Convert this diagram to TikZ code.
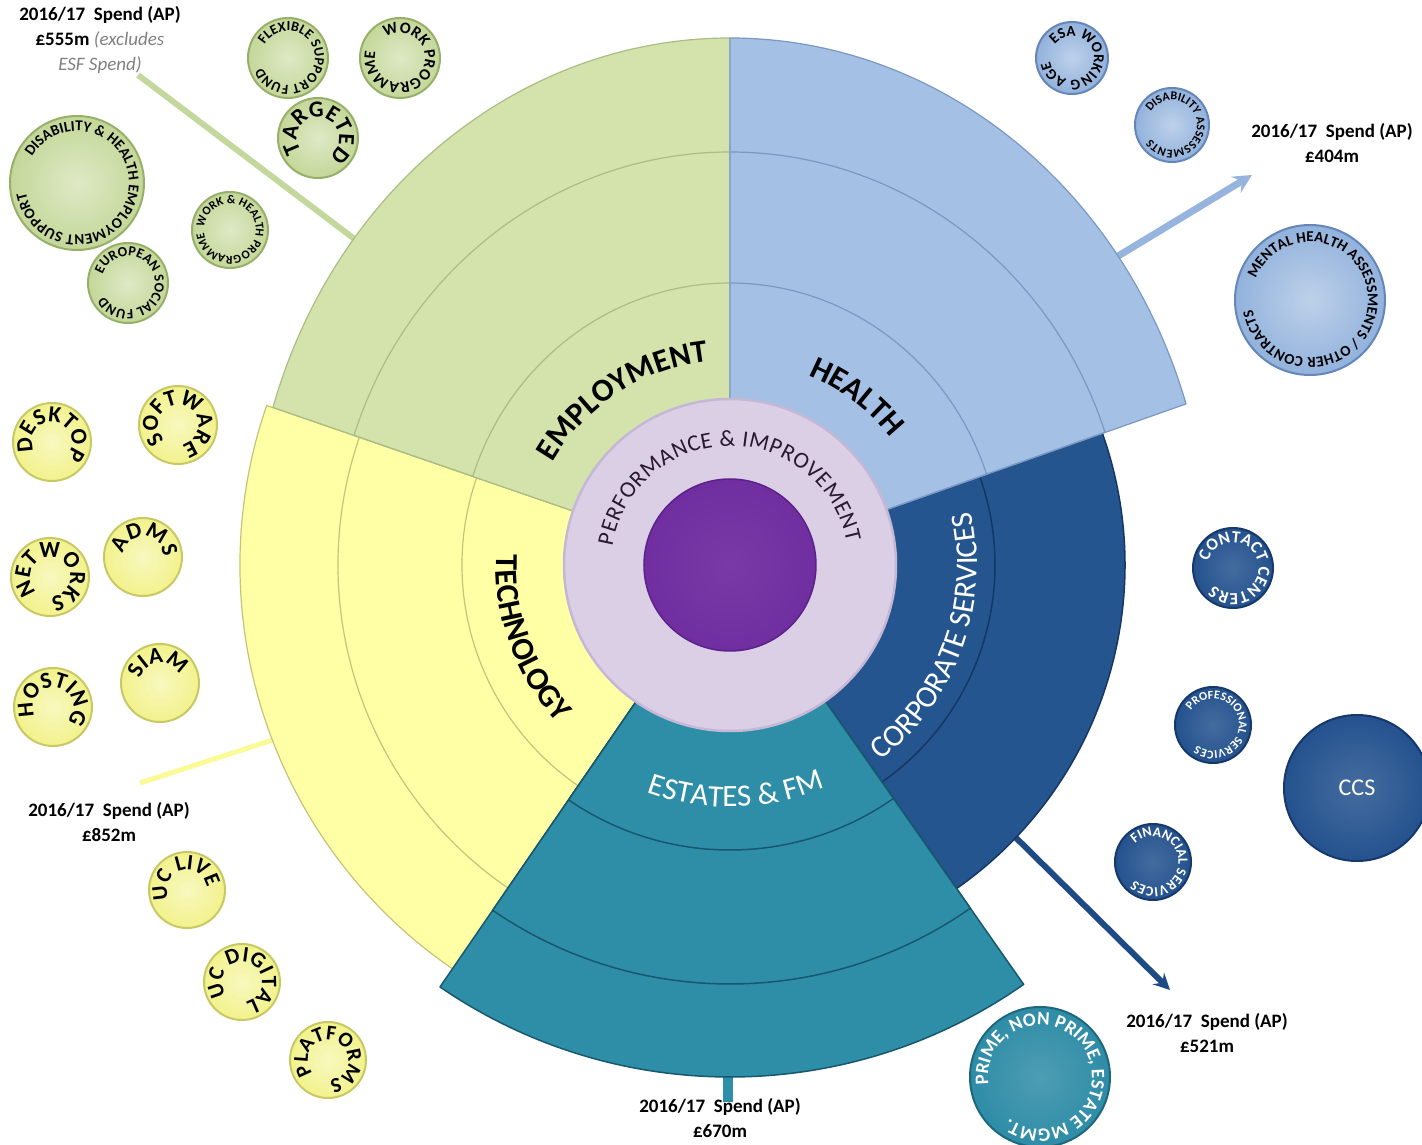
\documentclass[tikz,border=0pt]{standalone}
\usepackage{fontspec}
\setmainfont{Carlito}

\definecolor{empfill}{RGB}{212,226,172}
\definecolor{empline}{RGB}{170,190,132}
\definecolor{hlthfill}{RGB}{164,192,228}
\definecolor{hlthline}{RGB}{122,152,196}
\definecolor{techfill}{RGB}{255,255,166}
\definecolor{techline}{RGB}{196,196,120}
\definecolor{estfill}{RGB}{46,142,168}
\definecolor{estline}{RGB}{24,88,110}
\definecolor{corpfill}{RGB}{36,85,143}
\definecolor{corpline}{RGB}{20,55,100}
\definecolor{lavfill}{RGB}{218,207,229}
\definecolor{lavline}{RGB}{196,184,214}
\definecolor{purpfill}{RGB}{112,46,160}
\definecolor{purpline}{RGB}{92,34,138}
\definecolor{perftext}{RGB}{40,24,48}
\definecolor{gbubfill}{RGB}{196,215,152}
\definecolor{gbubline}{RGB}{150,176,106}
\definecolor{bbubfill}{RGB}{146,178,220}
\definecolor{bbubline}{RGB}{100,134,186}
\definecolor{ybubfill}{RGB}{242,242,140}
\definecolor{ybubline}{RGB}{200,200,100}
\definecolor{dbubfill}{RGB}{36,82,142}
\definecolor{dbubline}{RGB}{22,56,106}
\definecolor{tbubfill}{RGB}{46,140,166}
\definecolor{tbubline}{RGB}{30,104,126}
\definecolor{emplink}{RGB}{196,216,158}
\definecolor{hlthlink}{RGB}{150,180,222}
\definecolor{techlink}{RGB}{250,250,150}
\definecolor{corplink}{RGB}{30,74,134}

\newcommand\labfont{\fontsize{32}{32}\selectfont\bfseries}
\newcommand\wlabfont{\color{white}\fontsize{31}{31}\selectfont}
\newcommand\perffont{\color{perftext}\fontsize{23}{23}\selectfont}
\newcommand\bubfont[1]{\fontsize{#1}{#1}\selectfont\bfseries}
% one letter of a curved text: centre, angle, rotation, radius, letter
\newcommand\placechar[5]{%
  \node[inner sep=0pt, anchor=base, rotate=#3] at ([shift={(#2:#4)}]#1) {#5};}

% curved text: [tracking] centre, base radius, middle angle,
% sense (1 clockwise, letters outward; -1 anticlockwise, letters inward), font, text
\ExplSyntaxOn
\box_new:N \g__arc_char_box
\fp_new:N \g__arc_total_fp
\fp_new:N \g__arc_pos_fp
\fp_new:N \g__arc_w_fp
\tl_new:N \g__arc_ang_tl
\tl_new:N \g__arc_rot_tl
\str_new:N \g__arc_text_str
\cs_new_protected:Npn \__arc_width:nnn #1 #2 #3
  {
    \hbox_gset:Nn \g__arc_char_box { \pgfinterruptpicture #2 #3 \endpgfinterruptpicture }
    \fp_gset:Nn \g__arc_w_fp { \dim_to_fp:n { \box_wd:N \g__arc_char_box } + #1 }
  }
\NewDocumentCommand \arctext { O{0} m m m m m m }
  {
    \str_gset:Nn \g__arc_text_str { #7 }
    \fp_gzero:N \g__arc_total_fp
    \str_map_inline:Nn \g__arc_text_str
      {
        \__arc_width:nnn { #1 } { #6 } { ##1 }
        \fp_gadd:Nn \g__arc_total_fp { \g__arc_w_fp }
      }
    \fp_gset:Nn \g__arc_pos_fp { - \g__arc_total_fp / 2 }
    \str_map_inline:Nn \g__arc_text_str
      {
        \__arc_width:nnn { #1 } { #6 } { ##1 }
        \tl_gset:Nx \g__arc_ang_tl
          { \fp_eval:n { #4 - (#5) * ( \g__arc_pos_fp + \g__arc_w_fp / 2 ) / ( #3 ) * 180 / pi } }
        \tl_gset:Nx \g__arc_rot_tl { \fp_eval:n { \g__arc_ang_tl - 90 * (#5) } }
        \placechar { #2 } { \g__arc_ang_tl } { \g__arc_rot_tl } { #3 } { #6 ##1 }
        \fp_gadd:Nn \g__arc_pos_fp { \g__arc_w_fp }
      }
  }
\ExplSyntaxOff

\begin{document}
\begin{tikzpicture}[x=1pt, y=1pt, line join=round, >=stealth,
  empring/.style={fill=empfill, draw=empline, line width=1.2pt},
  hlthring/.style={fill=hlthfill, draw=hlthline, line width=1.2pt},
  techring/.style={fill=techfill, draw=techline, line width=1.2pt},
  estring/.style={fill=estfill, draw=estline, line width=1.5pt},
  corpring/.style={fill=corpfill, draw=corpline, line width=1.5pt},
  spend/.style={align=center, inner sep=0pt, font=\fontsize{19}{25}\selectfont\bfseries},
  bub/.style={circle, inner sep=0pt, line width=2pt},
  gbub/.style={bub, inner color=gbubfill!55!white, outer color=gbubfill, draw=gbubline},
  bbub/.style={bub, inner color=bbubfill!60!white, outer color=bbubfill, draw=bbubline},
  ybub/.style={bub, inner color=ybubfill!55!white, outer color=ybubfill, draw=ybubline},
  dbub/.style={bub, inner color=dbubfill!85!white, outer color=dbubfill, draw=dbubline},
  tbub/.style={bub, inner color=tbubfill!85!white, outer color=tbubfill, draw=tbubline}]
\useasboundingbox (-730,-580) rectangle (692,565);

% spend connectors (drawn first, the sectors hide their feet)
\coordinate (emptail) at (-592,490);
\coordinate (empfoot) at (-357,312);
\coordinate (hlthfoot) at (370,298);
\coordinate (hlthtip) at (522,390);
\coordinate (techfoot) at (-445,-171);
\coordinate (techtail) at (-590,-218);
\coordinate (estfoot) at (-2,-500);
\coordinate (esttail) at (-2,-537);
\coordinate (corpfoot) at (270,-257);
\coordinate (corptip) at (440,-425);
\draw[line width=6pt, emplink] (emptail) -- (empfoot);
\draw[->, line width=7pt, hlthlink] (hlthfoot) -- (hlthtip);
\draw[line width=5pt, techlink] (techfoot) -- (techtail);
\draw[line width=10pt, estfill] (estfoot) -- (esttail);
\draw[->, line width=6pt, corplink] (corpfoot) -- (corptip);

% sectors
\foreach \r in {490,392,268}
  \filldraw[techring] (0,0) -- (161:\r) arc[start angle=161, end angle=236.5, radius=\r] -- cycle;
\foreach \r in {395,265}
  \filldraw[corpring] (0,0) -- (-55:\r) arc[start angle=-55, end angle=19.5, radius=\r] -- cycle;
\foreach \r in {512,419,285}
  \filldraw[estring] (0,0) -- (235.5:\r) arc[start angle=235.5, end angle=305, radius=\r] -- cycle;
\foreach \a/\b/\s/\t in {479/527/162.6/17.8,396/413/161.7/18.75,271/282/161.7/18.8}{
  \filldraw[empring] (0,0) -- (\s:\a pt and \b pt) arc[start angle=\s, end angle=90, x radius=\a pt, y radius=\b pt] -- cycle;
  \filldraw[hlthring] (0,0) -- (\t:\a pt and \b pt) arc[start angle=\t, end angle=90, x radius=\a pt, y radius=\b pt] -- cycle;}

% hub
\node[circle, fill=lavfill, draw=lavline, line width=2.5pt, minimum size=332pt] (perf) at (0,0) {};
\node[circle, inner color=purpfill!94!white, outer color=purpfill, draw=purpline, line width=1.5pt, minimum size=172pt] (core) at (0,0) {};

% sector labels
\arctext{core.center}{205}{123}{1}{\labfont}{EMPLOYMENT}
\arctext{core.center}{205}{53}{1}{\labfont}{HEALTH}
\arctext{core.center}{234}{200}{-1}{\labfont}{TECHNOLOGY}
\arctext{core.center}{242}{271.5}{-1}{\wlabfont}{ESTATES & FM}
\arctext{core.center}{247}{-20}{-1}{\wlabfont}{CORPORATE SERVICES}
\arctext[0.6]{core.center}{119}{91}{1}{\perffont}{PERFORMANCE & IMPROVEMENT}

% employment bubbles
\node[gbub, minimum size=80pt] (flex) at (-442,507) {};
\node[gbub, minimum size=80pt] (wprog) at (-330,507) {};
\node[gbub, minimum size=80pt] (targ) at (-412,427) {};
\node[gbub, minimum size=134pt] (dhes) at (-653,382) {};
\node[gbub, minimum size=76pt] (whp) at (-500,335) {};
\node[gbub, minimum size=80pt] (esf) at (-602,282) {};
\arctext{flex.center}{27}{-5}{1}{\bubfont{14}}{FLEXIBLE SUPPORT FUND}
\arctext{wprog.center}{25}{-35}{1}{\bubfont{16}}{WORK PROGRAMME}
\arctext{targ.center}{21}{80}{1}{\bubfont{23}}{TARGETED}
\arctext{dhes.center}{52}{-10}{1}{\bubfont{15}}{DISABILITY & HEALTH EMPLOYMENT SUPPORT}
\arctext{whp.center}{26}{0}{1}{\bubfont{12}}{WORK & HEALTH PROGRAMME}
\arctext{esf.center}{27}{5}{1}{\bubfont{14}}{EUROPEAN SOCIAL FUND}

% health bubbles
\node[bbub, minimum size=72pt] (esa) at (342,507) {};
\node[bbub, minimum size=74pt] (disass) at (442,440) {};
\node[bbub, minimum size=150pt] (mental) at (580,265) {};
\arctext{esa.center}{22}{-15}{1}{\bubfont{15}}{ESA WORKING AGE}
\arctext{disass.center}{25}{1}{1}{\bubfont{12}}{DISABILITY ASSESSMENTS}
\arctext{mental.center}{58}{-6}{1}{\bubfont{15}}{MENTAL HEALTH ASSESSMENTS / OTHER CONTRACTS}

% technology bubbles
\node[ybub, minimum size=78pt] (desk) at (-678,123) {};
\node[ybub, minimum size=78pt] (soft) at (-552,140) {};
\node[ybub, minimum size=78pt] (netw) at (-680,-12) {};
\node[ybub, minimum size=78pt] (adms) at (-587,8) {};
\node[ybub, minimum size=78pt] (host) at (-677,-142) {};
\node[ybub, minimum size=78pt] (siam) at (-570,-118) {};
\node[ybub, minimum size=76pt] (uclive) at (-543,-325) {};
\node[ybub, minimum size=76pt] (ucdig) at (-488,-417) {};
\node[ybub, minimum size=76pt] (platf) at (-402,-495) {};
\arctext{desk.center}{20}{80}{1}{\bubfont{23}}{DESKTOP}
\arctext{soft.center}{20}{75}{1}{\bubfont{23}}{SOFTWARE}
\arctext{netw.center}{20}{70}{1}{\bubfont{23}}{NETWORKS}
\arctext{adms.center}{20}{85}{1}{\bubfont{23}}{ADMS}
\arctext{host.center}{20}{80}{1}{\bubfont{23}}{HOSTING}
\arctext{siam.center}{20}{95}{1}{\bubfont{23}}{SIAM}
\arctext{uclive.center}{20}{107}{1}{\bubfont{22}}{UC LIVE}
\arctext{ucdig.center}{20}{70}{1}{\bubfont{22}}{UC DIGITAL}
\arctext{platf.center}{20}{67}{1}{\bubfont{21}}{PLATFORMS}

% corporate services bubbles
\node[dbub, minimum size=80pt] (contact) at (503,-3) {};
\node[dbub, minimum size=76pt] (prof) at (483,-160) {};
\node[dbub, minimum size=146pt, font=\fontsize{24}{24}\selectfont, text=white] (ccs) at (627,-223) {CCS};
\node[dbub, minimum size=76pt] (fin) at (423,-297) {};
\arctext{contact.center}{25.5}{14}{1}{\color{white}\bubfont{17}}{CONTACT CENTERS}
\arctext{prof.center}{26}{10}{1}{\color{white}\bubfont{12}}{PROFESSIONAL SERVICES}
\arctext{fin.center}{25.5}{0}{1}{\color{white}\bubfont{14}}{FINANCIAL SERVICES}

% estates bubble
\node[tbub, minimum size=140pt] (prime) at (310,-512) {};
\arctext{prime.center}{52}{31}{1}{\color{white}\bubfont{19}}{PRIME, NON PRIME, ESTATE MGMT.}

% spend figures
\node[spend] (empspend) at (-630,525) {2016/17~~Spend (AP)\\£555m {\itshape\mdseries\color{gray}(excludes}\\{\itshape\mdseries\color{gray}ESF Spend)}};
\node[spend] (hlthspend) at (602,422) {2016/17~~Spend (AP)\\£404m};
\node[spend] (techspend) at (-621,-257) {2016/17~~Spend (AP)\\£852m};
\node[spend] (estspend) at (-10,-553) {2016/17~~Spend (AP)\\£670m};
\node[spend] (corpspend) at (477,-468) {2016/17~~Spend (AP)\\£521m};
\end{tikzpicture}
\end{document}
